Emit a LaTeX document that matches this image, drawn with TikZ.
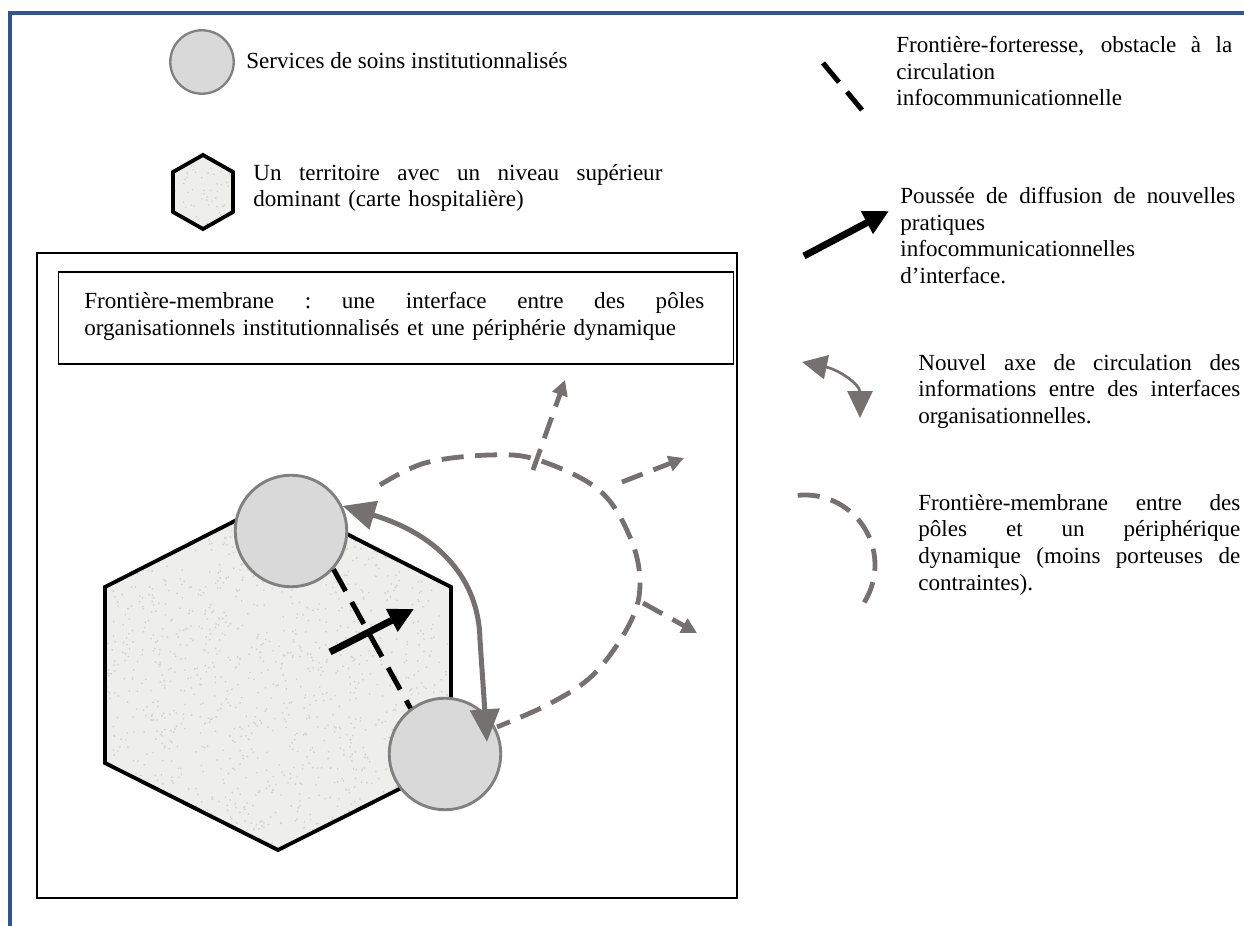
\documentclass[tikz,border=0pt]{standalone}
\usepackage{fontspec}
\setmainfont{Liberation Serif}
\usepackage{xcolor}
\usepackage{tikz}
\usetikzlibrary{arrows.meta}

\definecolor{frameblue}{RGB}{47,85,151}
\definecolor{polefill}{RGB}{217,217,217}
\definecolor{poleline}{RGB}{128,128,128}
\definecolor{flowgray}{RGB}{118,113,113}
\definecolor{terrfill}{RGB}{238,238,236}

% ligne justifiee sur une largeur donnee
\newcommand{\jline}[2]{\leavevmode\hbox to #1{\spaceskip=0.25em plus 1fil\xspaceskip=0.25em plus 1fil #2}}

\begin{document}
\begin{tikzpicture}[x=0.52pt, y=-0.52pt,
  every node/.style={font=\fontsize{12pt}{13.8pt}\selectfont},
  legtext/.style={anchor=north west, inner sep=0pt, align=left},
  pole/.style={circle, draw=poleline, fill=polefill, line width=1.5pt, inner sep=0pt, minimum size=58pt},
  fortline/.style={line width=2.6pt, dash pattern=on 13pt off 6.5pt},
  pushline/.style={line width=3.6pt, -{Triangle[length=13pt,width=12.5pt]}},
  flowline/.style={draw=flowgray, line width=2.6pt, {Triangle[length=17pt,width=15pt]}-{Triangle[length=17pt,width=15pt]}},
  membline/.style={draw=flowgray, line width=2.5pt, dash pattern=on 11.5pt off 6pt},
  spreadline/.style={membline, -{Triangle[length=8pt,width=8pt]}}]
\useasboundingbox (0,0) rectangle (1244,926);
\fill[white] (0,0) rectangle (1244,926);
\draw[frameblue, line width=1.6pt] (10,930) -- (10,13) -- (1250,13);

% legende
\node[pole, line width=1.2pt, minimum size=33pt] (svcleg) at (202,62) {};
\node[anchor=west, inner sep=0pt] (svctext) at (246,61) {Services de soins institutionnalisés};
\begin{scope}
\clip (203,155) -- (233,172) -- (233,212) -- (203,229) -- (173,212) -- (173,172) -- cycle;
\fill[terrfill] (173,155) rectangle (233,229);
\pgfmathsetseed{11}
\foreach \k in {1,...,60}{
  \fill[gray!35] (173+60*rnd,155+74*rnd) circle (0.5pt);
}
\end{scope}
\draw[line width=2pt, line join=miter] (203,155) -- (233,172) -- (233,212) -- (203,229) -- (173,212) -- (173,172) -- cycle;
\node[legtext, text width=212.7pt] (terrtext) at (253,164) {\jline{212.7pt}{Un territoire avec un niveau supérieur}\\dominant (carte hospitalière)};

\coordinate (fortLa) at (823,63);
\coordinate (fortLb) at (862,110);
\draw[fortline] (fortLa) -- (fortLb);
\node[legtext, text width=174.7pt] (forttext) at (896,36) {\jline{174.7pt}{Frontière-forteresse, obstacle à la}\\circulation\\infocommunicationnelle};

\coordinate (pushLa) at (804,256);
\coordinate (pushLb) at (889,211);
\draw[pushline] (pushLa) -- (pushLb);
\node[legtext, text width=174.2pt] (pushtext) at (900,187) {\jline{174.2pt}{Poussée de diffusion de nouvelles}\\pratiques\\infocommunicationnelles\\d’interface.};

\coordinate (flowLa) at (802,362);
\coordinate (flowLb) at (860,418);
\draw[draw=flowgray, line width=1.4pt, {Triangle[length=13pt,width=12.5pt]}-{Triangle[length=14pt,width=13pt]}] (flowLa) .. controls (840,370) and (860,385) .. (flowLb);
\node[legtext, text width=167.4pt] (flowtext) at (918,354) {\jline{167.4pt}{Nouvel axe de circulation des}\\\jline{167.4pt}{informations entre des interfaces}\\organisationnelles.};

\draw[membline] (805,565) ++(264:70) arc[start angle=264, end angle=393, radius=70];
\node[legtext, text width=167.4pt] (membtext) at (918,494) {\jline{167.4pt}{Frontière-membrane entre des}\\\jline{167.4pt}{pôles et un périphérique}\\\jline{167.4pt}{dynamique (moins porteuses de}\\contraintes).};

% schema
\draw[line width=1.2pt] (37,253) rectangle (737,898);
\node[draw, line width=0.8pt, minimum width=351pt, minimum height=47.8pt, inner sep=0pt] (membbox) at (396,318) {};
\node[legtext, text width=322.4pt] (membtitle) at (84,292)
  {\jline{322.4pt}{Frontière-membrane : une interface entre des pôles}\\organisationnels institutionnalisés et une périphérie dynamique};

\begin{scope}
\clip (278,499) -- (451,587) -- (451,763) -- (278,850) -- (105,763) -- (105,587) -- cycle;
\fill[terrfill] (105,499) rectangle (451,850);
\pgfmathsetseed{7}
\foreach \k in {1,...,1400}{
  \fill[gray!35] (105+346*rnd,499+351*rnd) circle (0.55pt);
}
\end{scope}
\draw[line width=2pt, line join=miter] (278,499) -- (451,587) -- (451,763) -- (278,850) -- (105,763) -- (105,587) -- cycle;

\node[pole] (poleA) at (291,531) {};
\node[pole] (poleB) at (445,754) {};

\draw[fortline] (poleA.-42) -- (poleB.127);
\coordinate (pushA) at (330,652);
\coordinate (pushB) at (414,609);
\draw[pushline] (pushA) -- (pushB);

\draw[membline] plot[smooth, tension=0.6] coordinates {(380,485) (425,463) (490,455) (538,460) (599,490) (630,537) (640,583) (630,623) (595,673) (551,703) (497,727)};
\coordinate (sp1a) at (533,470);
\coordinate (sp1b) at (565,380);
\coordinate (sp2a) at (622,482);
\coordinate (sp2b) at (684,458);
\coordinate (sp3a) at (643,603);
\coordinate (sp3b) at (697,633);
\draw[spreadline] (sp1a) -- (sp1b);
\draw[spreadline] (sp2a) -- (sp2b);
\draw[spreadline] (sp3a) -- (sp3b);

\coordinate (flowEnd) at (487,742);
\draw[flowline] (poleA.26) .. controls (440,535) and (479,580) .. (480,640) -- (flowEnd);
\end{tikzpicture}
\end{document}
